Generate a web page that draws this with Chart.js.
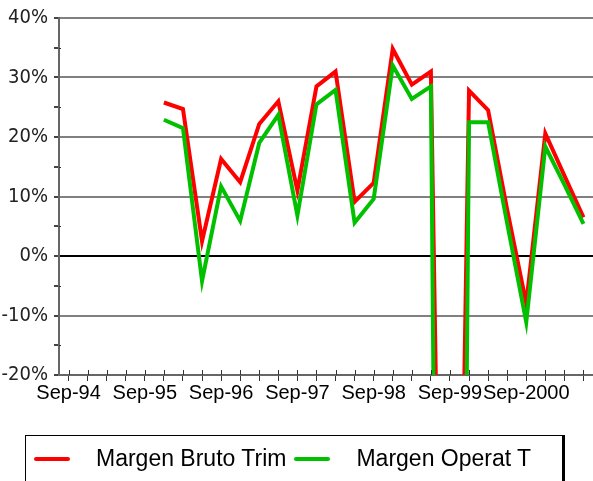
<!DOCTYPE html>
<html>
<head>
<meta charset="utf-8">
<script src="https://cdn.jsdelivr.net/npm/chart.js@4.4.1/dist/chart.umd.min.js"></script>
<style>
body { margin: 0; background: #fff; overflow: hidden; }
#wrap { position: relative; width: 593px; height: 481px; }
#legend {
  position: absolute; left: 25px; top: 435px; width: 540px; height: 60px;
  border: 1px solid #000; border-right: 3px solid #000; box-sizing: border-box;
  display: flex; align-items: flex-start; padding: 9px 0 0 8px;
  font-family: 'Liberation Sans', Arial, sans-serif; font-size: 23px; color: #000;
}
#legend .item { display: flex; align-items: center; margin-right: 8px; white-space: nowrap; }
#legend .swatch { width: 36px; height: 4px; border-radius: 2px; margin-right: 26px; }
</style>
</head>
<body>
<div id="wrap">
  <canvas id="chart" width="593" height="481"></canvas>
  <div id="legend"></div>
</div>
<script>
// quarters, Sep-94 .. Jun-2001
const quarters = ['Sep-94', 'Dec-94', 'Mar-95', 'Jun-95', 'Sep-95', 'Dec-95', 'Mar-96', 'Jun-96',
  'Sep-96', 'Dec-96', 'Mar-97', 'Jun-97', 'Sep-97', 'Dec-97', 'Mar-98', 'Jun-98',
  'Sep-98', 'Dec-98', 'Mar-99', 'Jun-99', 'Sep-99', 'Dec-99', 'Mar-2000', 'Jun-2000',
  'Sep-2000', 'Dec-2000', 'Mar-2001', 'Jun-2001'];

// margins in %
const margenBruto = [null, null, null, null, null, 25.8, 24.7, 2.5, 16.3, 12.4, 22.2, 26.0,
  11.0, 28.5, 31.0, 9.1, 12.3, 34.8, 28.8, 31.0, -168, 27.8, 24.5, 7.8, -8.0, 20.6, 13.5, 6.5];
const margenOperat = [null, null, null, null, null, 22.9, 21.5, -4.2, 11.7, 5.9, 19.0, 23.7,
  6.8, 25.5, 27.9, 5.6, 9.6, 32.0, 26.4, 28.5, -340, 22.5, 22.5, 5.5, -11.1, 18.4, 12.0, 5.4];

const yTicks = [-20, -10, 0, 10, 20, 30, 40];

// tick marks that cross the axes, like the original
const crossTicks = {
  id: 'crossTicks',
  afterDraw(chart) {
    const ctx = chart.ctx;
    const x = chart.scales.x, y = chart.scales.y;
    const area = chart.chartArea;
    ctx.save();
    ctx.strokeStyle = '#333';
    ctx.lineWidth = 1;
    ctx.beginPath();
    x.ticks.forEach((t, i) => {
      const px = Math.round(x.getPixelForTick(i)) + 0.5;
      ctx.moveTo(px, area.bottom - 5);
      ctx.lineTo(px, area.bottom);
    });
    y.ticks.forEach(t => {
      if (t.value % 10 !== 0) {
        const py = Math.round(y.getPixelForValue(t.value)) + 0.5;
        ctx.moveTo(area.left, py);
        ctx.lineTo(area.left + 2, py);
      }
    });
    ctx.stroke();
    ctx.restore();
  }
};

const chart = new Chart(document.getElementById('chart'), {
  type: 'line',
  data: {
    labels: quarters,
    datasets: [
      {
        label: 'Margen Bruto Trim',
        data: margenBruto,
        borderColor: '#ff0000',
        backgroundColor: '#ff0000',
        borderWidth: 4,
        pointRadius: 0,
        tension: 0,
        clip: 0,
        order: 1
      },
      {
        label: 'Margen Operat T',
        data: margenOperat,
        borderColor: '#00c000',
        backgroundColor: '#00c000',
        borderWidth: 4,
        pointRadius: 0,
        tension: 0,
        clip: 0,
        order: 0
      }
    ]
  },
  options: {
    responsive: false,
    animation: false,
    layout: { padding: { top: 18, right: 0, left: 0, bottom: 0 } },
    plugins: {
      legend: { display: false },
      tooltip: { enabled: false }
    },
    scales: {
      x: {
        offset: true,
        grid: { offset: false, drawOnChartArea: false, tickLength: 6, color: '#333' },
        border: { color: '#666', width: 2 },
        afterFit(scale) { scale.height = 106; },
        ticks: {
          autoSkip: false,
          maxRotation: 0,
          padding: 0,
          color: '#000',
          font: { family: "'Liberation Sans', Arial, sans-serif", size: 20 },
          callback: (v, i) => (i % 4 === 0 ? quarters[i] : '')
        }
      },
      y: {
        min: yTicks[0],
        max: yTicks[yTicks.length - 1],
        afterFit(scale) { scale.width = 59; },
        grid: {
          tickLength: 5,
          lineWidth: 2,
          color: c => (c.tick.value === 0 ? '#000' : (c.tick.value % 10 === 0 ? '#808080' : 'rgba(0,0,0,0)')),
          tickColor: '#444'
        },
        border: { color: '#666', width: 2 },
        ticks: {
          stepSize: 5,
          padding: 6,
          color: '#222',
          font: { family: "'Liberation Sans Narrow', 'DejaVu Sans Condensed', sans-serif", size: 20 },
          callback: v => (yTicks.includes(v) ? v + '%' : '')
        }
      }
    }
  },
  plugins: [crossTicks]
});

// legend built from the datasets
const legendEl = document.getElementById('legend');
chart.data.datasets.forEach(ds => {
  const item = document.createElement('div');
  item.className = 'item';
  item.innerHTML = '<span class="swatch" style="background:' + ds.borderColor + '"></span><span>' + ds.label + '</span>';
  legendEl.appendChild(item);
});
</script>
</body>
</html>
